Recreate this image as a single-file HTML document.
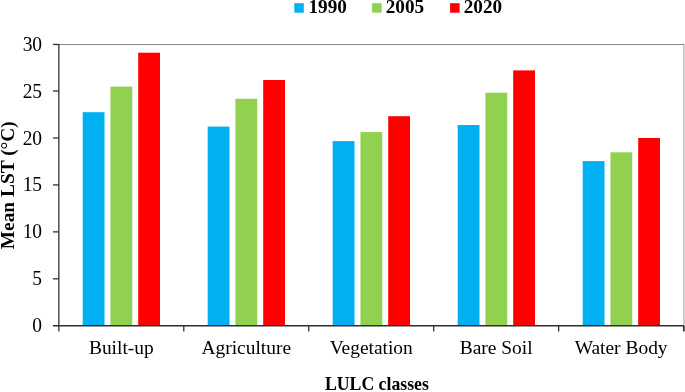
<!DOCTYPE html>
<html><head><meta charset="utf-8"><title>Mean LST by LULC class</title>
<style>html,body{margin:0;padding:0;background:#fff;}body{width:685px;height:392px;overflow:hidden;}svg{display:block;will-change:transform;}text{font-family:"Liberation Serif",serif;fill:#000;}</style>
</head><body>
<svg width="685" height="392" viewBox="0 0 685 392">
<rect x="0" y="0" width="685" height="392" fill="#ffffff"/>
<rect x="683.15" y="44" width="0.85" height="281.75" fill="#bcbcbc"/>
<rect x="684" y="44.6" width="1" height="281.40" fill="#d4d4d4"/>
<rect x="684" y="326" width="1" height="5.4" fill="#8e8e8e"/>
<rect x="58.85" y="44" width="625.25" height="1" fill="#8a8a8a"/>
<rect x="683" y="44" width="1" height="1" fill="#787878"/>
<rect x="82.70" y="112.20" width="21.80" height="213.55" fill="#00B0F0"/>
<rect x="110.45" y="86.60" width="21.80" height="239.15" fill="#92D050"/>
<rect x="138.20" y="52.70" width="21.80" height="273.05" fill="#FF0000"/>
<rect x="207.70" y="126.60" width="21.80" height="199.15" fill="#00B0F0"/>
<rect x="235.45" y="98.80" width="21.80" height="226.95" fill="#92D050"/>
<rect x="263.20" y="80.00" width="21.80" height="245.75" fill="#FF0000"/>
<rect x="332.70" y="141.10" width="21.80" height="184.65" fill="#00B0F0"/>
<rect x="360.45" y="132.10" width="21.80" height="193.65" fill="#92D050"/>
<rect x="388.20" y="116.20" width="21.80" height="209.55" fill="#FF0000"/>
<rect x="457.70" y="125.00" width="21.80" height="200.75" fill="#00B0F0"/>
<rect x="485.45" y="92.70" width="21.80" height="233.05" fill="#92D050"/>
<rect x="513.20" y="70.40" width="21.80" height="255.35" fill="#FF0000"/>
<rect x="582.70" y="161.10" width="21.80" height="164.65" fill="#00B0F0"/>
<rect x="610.45" y="152.30" width="21.80" height="173.45" fill="#92D050"/>
<rect x="638.20" y="138.00" width="21.80" height="187.75" fill="#FF0000"/>
<g stroke="#2e2e2e" stroke-width="1.28" fill="none">
<path d="M58.85 43.90 V331.50"/>
<path d="M53.00 325.75 H684.20"/>
<path d="M53.00 278.81 H58.85"/>
<path d="M53.00 231.87 H58.85"/>
<path d="M53.00 184.93 H58.85"/>
<path d="M53.00 137.98 H58.85"/>
<path d="M53.00 91.04 H58.85"/>
<path d="M53.00 44.45 H58.85"/>
<path d="M183.80 325.75 V331.50"/>
<path d="M308.75 325.75 V331.50"/>
<path d="M433.70 325.75 V331.50"/>
<path d="M558.65 325.75 V331.50"/>
<path d="M683.60 325.75 V331.50"/>
</g>
<text transform="translate(42.10 331.75) scale(0.9600 1)" font-size="20.30" text-anchor="end">0</text>
<text transform="translate(42.10 285.01) scale(0.9600 1)" font-size="20.30" text-anchor="end">5</text>
<text transform="translate(42.10 238.42) scale(0.9600 1)" font-size="20.30" text-anchor="end">10</text>
<text transform="translate(42.10 191.33) scale(0.9600 1)" font-size="20.30" text-anchor="end">15</text>
<text transform="translate(42.10 144.63) scale(0.9600 1)" font-size="20.30" text-anchor="end">20</text>
<text transform="translate(42.10 97.54) scale(0.9600 1)" font-size="20.30" text-anchor="end">25</text>
<text transform="translate(42.10 51.00) scale(0.9600 1)" font-size="20.30" text-anchor="end">30</text>
<text transform="translate(121.33 354.20)" font-size="19.45" text-anchor="middle">Built-up</text>
<text transform="translate(246.28 354.20)" font-size="19.45" text-anchor="middle">Agriculture</text>
<text transform="translate(371.23 354.20)" font-size="19.45" text-anchor="middle">Vegetation</text>
<text transform="translate(496.18 354.20)" font-size="19.45" text-anchor="middle">Bare Soil</text>
<text transform="translate(621.12 354.20)" font-size="19.45" text-anchor="middle">Water Body</text>
<text transform="translate(376.90 390.35) scale(0.9800 1)" font-size="18.10" text-anchor="middle" font-weight="bold">LULC classes</text>
<text transform="translate(13.90 185.20) rotate(-90)" font-size="19.40" text-anchor="middle" font-weight="bold">Mean LST (°C)</text>
<rect x="294.30" y="3.2" width="9.5" height="9.5" fill="#00B0F0"/>
<text transform="translate(308.45 13.10) scale(1.0450 1)" font-size="18.40" font-weight="bold">1990</text>
<rect x="372.10" y="3.2" width="9.5" height="9.5" fill="#92D050"/>
<text transform="translate(385.70 13.10) scale(1.0450 1)" font-size="18.40" font-weight="bold">2005</text>
<rect x="450.10" y="3.2" width="9.5" height="9.5" fill="#FF0000"/>
<text transform="translate(463.70 13.10) scale(1.0450 1)" font-size="18.40" font-weight="bold">2020</text>
</svg>
</body></html>
